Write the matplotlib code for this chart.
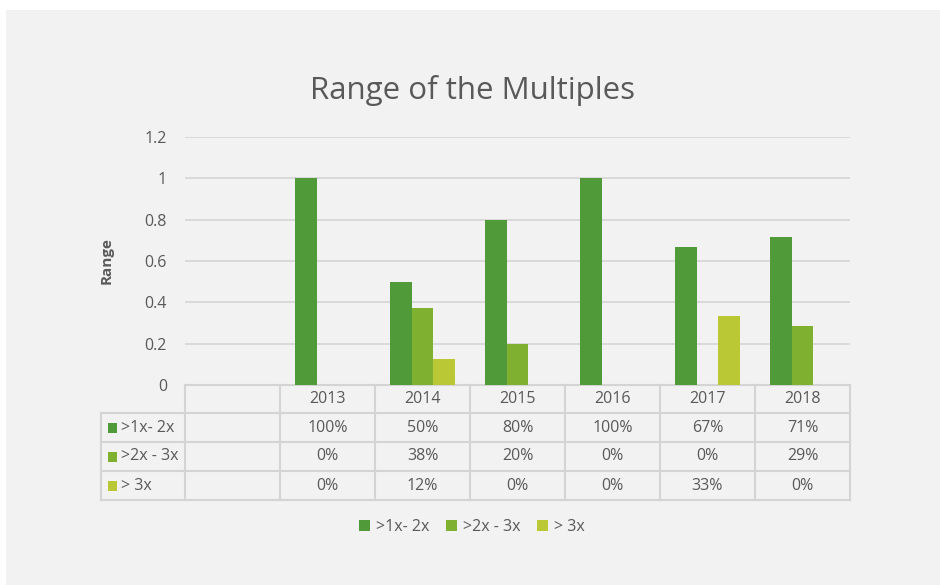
import numpy as np
import matplotlib
matplotlib.use("Agg")
from matplotlib import pyplot as plt
from matplotlib.patches import Rectangle
from matplotlib.lines import Line2D
import matplotlib.transforms as mtransforms

# data
years = ["2013", "2014", "2015", "2016", "2017", "2018"]
series_names = [">1x- 2x", ">2x - 3x", "> 3x"]
range_1x_2x = [1.0, 0.5, 0.8, 1.0, 0.667, 0.714]
range_2x_3x = [0.0, 0.375, 0.2, 0.0, 0.0, 0.286]
range_over_3x = [0.0, 0.125, 0.0, 0.0, 0.333, 0.0]
y_ticks = [0, 0.2, 0.4, 0.6, 0.8, 1, 1.2]

colors = ["#519a39", "#80b030", "#b9c834"]
text_color = "#595959"
line_color = "#d4d4d4"

plt.rcParams["font.family"] = ["Open Sans", "DejaVu Sans"]

fig = plt.figure(figsize=(9.4, 5.85), dpi=100)
fig.patch.set_facecolor("white")
W, H = 940, 585

# grey chart area
fig.patches.append(Rectangle((6 / W, 0), 1 - 6 / W, 1 - 10 / H, transform=fig.transFigure,
                             facecolor="#f2f2f2", edgecolor="none", zorder=-5))

ax = fig.add_axes([185 / W, 1 - 385 / H, 665 / W, 248 / H])
ax.set_facecolor("none")
ax.set_xlim(-0.5, 6.5)
ax.set_ylim(0, 1.2)
ax.set_yticks(y_ticks)
ax.set_yticklabels([f"{t:g}" for t in y_ticks])
ax.tick_params(axis="y", length=0, pad=13, labelsize=11.5, labelcolor=text_color)
ax.set_xticks([])
for s in ax.spines.values():
    s.set_visible(False)
ax.grid(axis="y", color=line_color, linewidth=1.2)
ax.set_axisbelow(True)

x = np.arange(1, len(years) + 1)
bw = 0.226
all_series = [range_1x_2x, range_2x_3x, range_over_3x]
for i, vals in enumerate(all_series):
    ax.bar(x + (i - 1) * bw, vals, width=bw, color=colors[i], zorder=3)

ax.set_ylabel("Range", fontsize=11, fontweight="bold", color=text_color, labelpad=22)
fig.text(473 / W, 1 - 91 / H, "Range of the Multiples", ha="center", va="center",
         fontsize=22.5, color=text_color)

# data table below the plot (x in data units, y in pixels from top)
trans = mtransforms.blended_transform_factory(ax.transData, fig.transFigure)
def fy(py):
    return 1 - py / H

row_edges = [385, 413, 442, 471, 500]
x_left = -0.5 - 84 / 95  # left column start
kw = dict(color=line_color, linewidth=1.5, transform=trans, clip_on=False)
# horizontal lines
ax.add_line(Line2D([-0.5, 6.5], [fy(385), fy(385)], **kw))
for py in row_edges[1:]:
    ax.add_line(Line2D([x_left, 6.5], [fy(py), fy(py)], **kw))
# vertical lines
ax.add_line(Line2D([x_left, x_left], [fy(413), fy(500)], **kw))
for xv in np.arange(-0.5, 7, 1.0):
    ax.add_line(Line2D([xv, xv], [fy(385), fy(500)], **kw))

for j, yr in enumerate(years):
    ax.text(x[j], fy((385 + 413) / 2), yr, transform=trans, ha="center", va="center",
            fontsize=11.5, color=text_color)
for i, vals in enumerate(all_series):
    yc = fy((row_edges[i + 1] + row_edges[i + 2]) / 2)
    ax.add_patch(Rectangle((x_left + 7 / 95, yc - 5 / H), 9 / 95, 10 / H, transform=trans,
                           facecolor=colors[i], edgecolor="none", clip_on=False))
    ax.text(x_left + 20 / 95, yc, series_names[i], transform=trans, ha="left", va="center",
            fontsize=11.5, color=text_color)
    for j, v in enumerate(vals):
        ax.text(x[j], yc, f"{v:.0%}", transform=trans, ha="center", va="center",
                fontsize=11.5, color=text_color)

# legend
handles = [Rectangle((0, 0), 1, 1, facecolor=c, edgecolor="none") for c in colors]
fig.legend(handles, series_names, loc="center", bbox_to_anchor=(472 / W, 1 - 527 / H),
           ncol=3, frameon=False, fontsize=11.5, labelcolor=text_color,
           handlelength=0.7, handleheight=0.7, handletextpad=0.4, columnspacing=1.0)

fig.savefig("out.png", dpi=100, facecolor=fig.get_facecolor())
